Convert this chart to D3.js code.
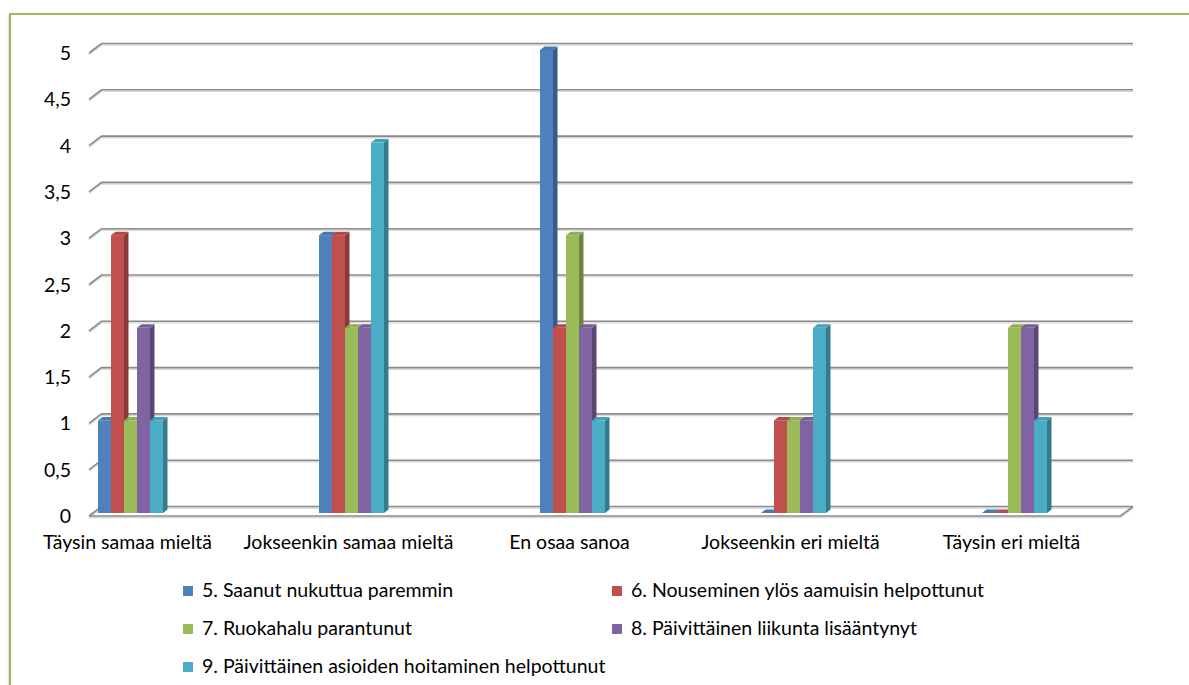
<!DOCTYPE html>
<html>
<head>
<meta charset="utf-8">
<script src="https://cdn.jsdelivr.net/npm/d3@7"></script>
<style>
  html, body { margin: 0; padding: 0; background: #ffffff; }
  svg { display: block; font-family: Lato, "Open Sans", sans-serif; }
</style>
</head>
<body>
<svg id="chart" width="1189" height="685"></svg>
<script>
// Answer categories along the x axis
const categories = [
  "Täysin samaa mieltä",
  "Jokseenkin samaa mieltä",
  "En osaa sanoa",
  "Jokseenkin eri mieltä",
  "Täysin eri mieltä"
];

// Statements (one series each)
const seriesNames = [
  "5. Saanut nukuttua paremmin",
  "6. Nouseminen ylös aamuisin helpottunut",
  "7. Ruokahalu parantunut",
  "8. Päivittäinen liikunta lisääntynyt",
  "9. Päivittäinen asioiden hoitaminen helpottunut"
];

// Number of answers per category, one array per statement
const s5 = [1, 3, 5, 0, 0];
const s6 = [3, 3, 2, 1, 0];
const s7 = [1, 2, 3, 1, 2];
const s8 = [2, 2, 2, 1, 2];
const s9 = [1, 4, 1, 2, 1];
const seriesValues = [s5, s6, s7, s8, s9];

const seriesColors = ["#4F81BD", "#C0504D", "#9BBB59", "#8064A2", "#4BACC6"];

const yTicks = [0, 0.5, 1, 1.5, 2, 2.5, 3, 3.5, 4, 4.5, 5];
const yTickLabels = ["0", "0,5", "1", "1,5", "2", "2,5", "3", "3,5", "4", "4,5", "5"];

const svg = d3.select("#chart");
const fontSize = 19.5;

// Outer frame
svg.append("line")
  .attr("x1", 8.5).attr("y1", 15).attr("x2", 8.5).attr("y2", 685)
  .attr("stroke", "#e2e2e2").attr("stroke-width", 1.5);
svg.append("rect")
  .attr("x", 10).attr("y", 14).attr("width", 1200).attr("height", 700)
  .attr("fill", "none").attr("stroke", "#9BBB59").attr("stroke-width", 2);

// Scales: bar front faces
const y = d3.scaleLinear().domain([0, 5]).range([513, 50]);
const x0 = d3.scaleBand().domain(categories)
  .range([98, 1047]).paddingInner(0.7059).paddingOuter(0);
const x1 = d3.scaleBand().domain(d3.range(seriesNames.length))
  .range([0, x0.bandwidth()]).padding(0);

// 3D offsets: wall relative to bar fronts, and bar depth
const wallDx = 3.5, wallDy = -6.5;     // back wall shift from bar front plane
const frontDx = -9, frontDy = 3;       // front edge of floor/left side
const barDx = 4.5, barDy = -3.5;

const wallLeft = 98 + wallDx;          // back wall left edge
const wallRight = 1133;

// Gridlines on the back wall with their diagonal at the left
const grid = svg.append("g");
yTicks.forEach(v => {
  const yb = y(v) + wallDy;
  const yf = y(v) + frontDy;
  const xf = 98 + frontDx;
  const pathD = `M${xf},${yf}L${wallLeft},${yb}L${wallRight},${yb}`;
  grid.append("path").attr("d", pathD)
    .attr("transform", "translate(0,1.6)")
    .attr("fill", "none").attr("stroke", "#d6d6d6").attr("stroke-width", 1.4);
  grid.append("path").attr("d", pathD)
    .attr("fill", "none").attr("stroke", "#8a8a8a").attr("stroke-width", 1.6);
});

// Floor outline
const floorBackY = y(0) + wallDy, floorFrontY = y(0) + frontDy;
const floorD = `M${98 + frontDx},${floorFrontY}L${wallRight - (wallLeft - (98 + frontDx))},${floorFrontY}L${wallRight},${floorBackY}`;
svg.append("path").attr("d", floorD)
  .attr("transform", "translate(0,1.6)")
  .attr("fill", "none").attr("stroke", "#d6d6d6").attr("stroke-width", 1.4);
svg.append("path").attr("d", floorD)
  .attr("fill", "none").attr("stroke", "#8a8a8a").attr("stroke-width", 1.6);

// Y axis labels
svg.append("g").selectAll("text")
  .data(yTicks)
  .join("text")
  .attr("x", 71)
  .attr("y", v => y(v) + 10)
  .attr("text-anchor", "end")
  .attr("font-size", fontSize)
  .attr("fill", "#000")
  .text((v, i) => yTickLabels[i]);

// 3D columns, drawn left to right so each front face covers the previous side face
const bars = svg.append("g");
categories.forEach((cat, ci) => {
  seriesValues.forEach((vals, si) => {
    const v = vals[ci];
    const bx = x0(cat) + x1(si);
    const w = x1.bandwidth();
    const yt = y(v), yb = y(0);
    const c = d3.color(seriesColors[si]);
    const side = c.darker(0.95).formatHex();
    const top = c.darker(0.2).formatHex();
    const g = bars.append("g");
    // side face
    g.append("path")
      .attr("d", `M${bx + w},${yt}L${bx + w + barDx},${yt + barDy}L${bx + w + barDx},${yb + barDy}L${bx + w},${yb}Z`)
      .attr("fill", side);
    // top face
    g.append("path")
      .attr("d", `M${bx},${yt}L${bx + barDx},${yt + barDy}L${bx + w + barDx},${yt + barDy}L${bx + w},${yt}Z`)
      .attr("fill", top);
    // front face
    if (v > 0) {
      g.append("rect")
        .attr("x", bx).attr("y", yt)
        .attr("width", w).attr("height", yb - yt)
        .attr("fill", c.formatHex());
    }
  });
});

// Category labels
svg.append("g").selectAll("text")
  .data(categories)
  .join("text")
  .attr("x", d => x0(d) + x0.bandwidth() / 2 - 3)
  .attr("y", 549)
  .attr("text-anchor", "middle")
  .attr("font-size", fontSize)
  .attr("fill", "#000")
  .text(d => d);

// Legend in two columns
const legendColX = [183, 612];
const legendRowY = [597, 635, 673];
const legend = svg.append("g").selectAll("g")
  .data(seriesNames)
  .join("g")
  .attr("transform", (d, i) => `translate(${legendColX[i % 2]},${legendRowY[Math.floor(i / 2)]})`);
legend.append("rect")
  .attr("x", 0).attr("y", -11).attr("width", 10).attr("height", 10)
  .attr("fill", (d, i) => seriesColors[i]);
legend.append("text")
  .attr("x", 19).attr("y", 0)
  .attr("font-size", fontSize)
  .attr("fill", "#000")
  .text(d => d);
</script>
</body>
</html>
